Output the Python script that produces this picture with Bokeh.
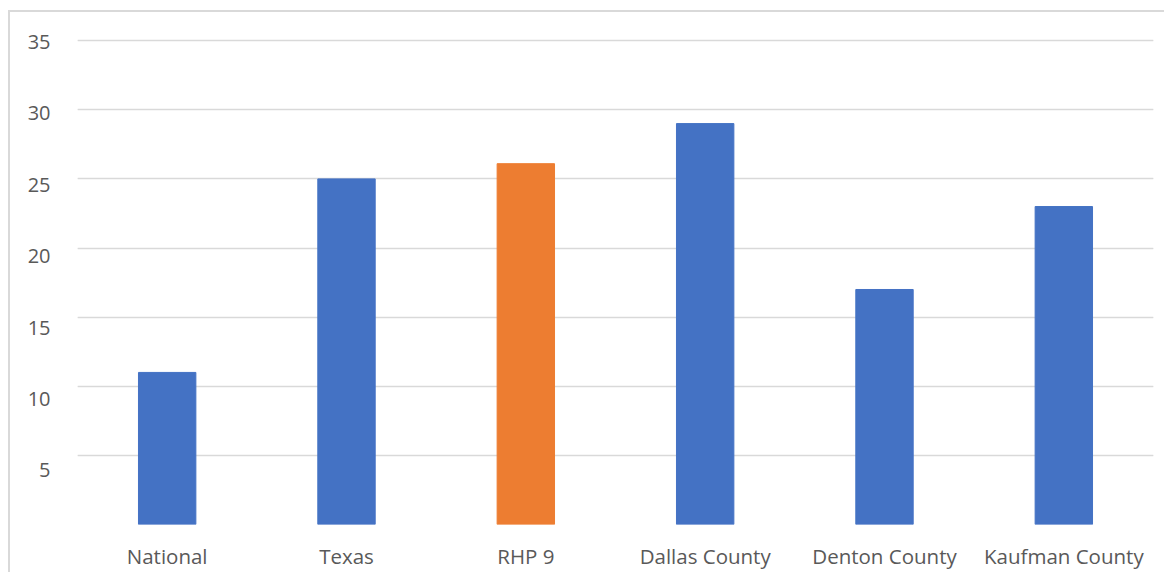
from bokeh.plotting import figure
from bokeh.models import ColumnDataSource, FactorRange, Range1d, FixedTicker, LinearAxis, Grid
from bokeh.embed import file_html
from bokeh.resources import INLINE

categories = ["National", "Texas", "RHP 9", "Dallas County", "Denton County", "Kaufman County"]
values = [11, 25, 26.1, 29, 17, 23]
y_ticks = [0, 5, 10, 15, 20, 25, 30, 35]
highlight = "RHP 9"

BLUE = "#4472C4"
ORANGE = "#ED7D31"
GRID = "#d9d9d9"
TEXT = "#595959"
colors = [ORANGE if c == highlight else BLUE for c in categories]

src = ColumnDataSource(data=dict(cat=categories, val=values, color=colors))

p = figure(
    x_range=FactorRange(*categories, range_padding=0),
    y_range=Range1d(0, 35.3),
    y_axis_location=None,
    width=1164, height=572,
    output_backend="svg", toolbar_location=None,
    min_border_left=77, min_border_right=11, min_border_top=36, min_border_bottom=43,
)
p.border_fill_color = None
p.background_fill_color = None
p.styles = {
    "background-color": "white",
    "background-image": f"linear-gradient({GRID},{GRID}), linear-gradient({GRID},{GRID})",
    "background-size": "100% 2px, 2px 100%",
    "background-position": "8px 10px, 8px 10px",
    "background-repeat": "no-repeat",
}

p.vbar(x="cat", top="val", width=0.32, color="color", source=src)

p.outline_line_color = None
p.xgrid.grid_line_color = None
p.add_layout(Grid(dimension=1, ticker=FixedTicker(ticks=y_ticks),
                  grid_line_color=GRID, grid_line_width=1.5))

# tick labels sit slightly offset from the gridlines, as in the original image
p.extra_y_ranges = {"lab": Range1d(1.218, 35.385)}
yax = LinearAxis(y_range_name="lab", ticker=FixedTicker(ticks=y_ticks))
p.add_layout(yax, "left")

for ax in (p.xaxis[0], yax):
    ax.axis_line_color = None
    ax.major_tick_line_color = None
    ax.minor_tick_line_color = None
    ax.major_label_text_font = "Open Sans"
    ax.major_label_text_color = TEXT

yax.major_label_text_font_size = "20px"
yax.major_label_standoff = 21
p.xaxis.major_label_text_font_size = "20.5px"
p.xaxis.major_label_standoff = 11

open("out.html", "w").write(file_html(p, INLINE))
